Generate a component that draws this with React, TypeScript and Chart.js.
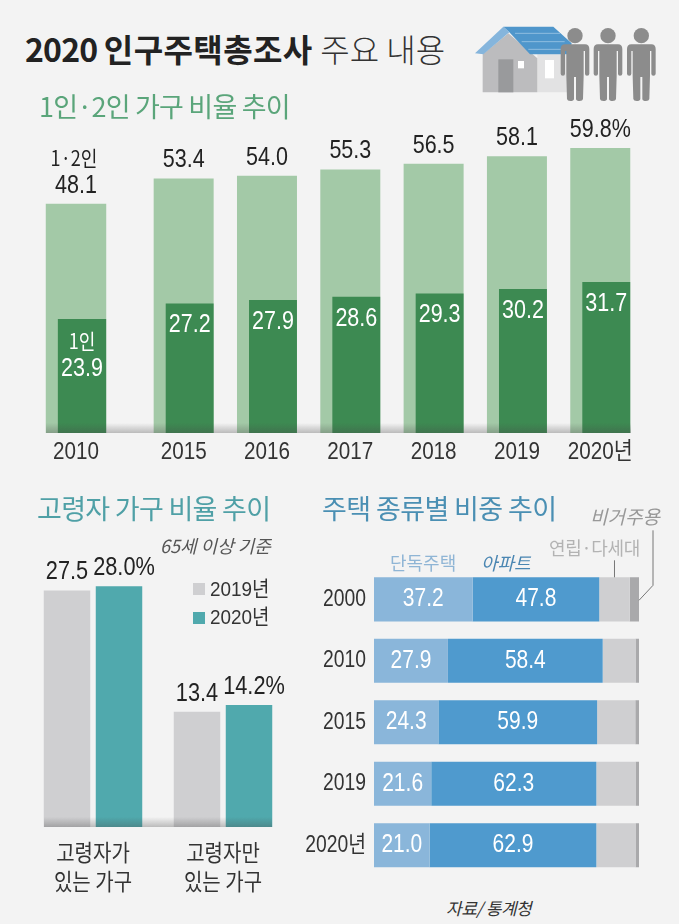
import React, { useEffect, useRef } from "react";
import { Chart, registerables } from "chart.js";

Chart.register(...registerables);

const years = ["2010", "2015", "2016", "2017", "2018", "2019", "2020년"];
const oneTwoPerson = [48.1, 53.4, 54.0, 55.3, 56.5, 58.1, 59.8];
const onePerson = [23.9, 27.2, 27.9, 28.6, 29.3, 30.2, 31.7];

const elderlyCategories = [["고령자가", "있는 가구"], ["고령자만", "있는 가구"]];
const elderly2019 = [27.5, 13.4];
const elderly2020 = [28.0, 14.2];

const housingYears = ["2000", "2010", "2015", "2019", "2020년"];
const detached = [37.2, 27.9, 24.3, 21.6, 21.0];
const apartment = [47.8, 58.4, 59.9, 62.3, 62.9];
const rowHouse = [11.5, 12.4, 14.4, 14.8, 14.8];
const nonResidential = [3.5, 1.3, 1.4, 1.3, 1.3];

const NARROW = "'Liberation Sans','Noto Sans CJK KR',sans-serif";
const KR = "'Noto Sans CJK KR',sans-serif";
const BG = "#f3f3f3";

const baseScaleOff = { display: false };

// Every text drawn on the canvas gets the reference's condensed look.
function condense(k: number) {
  return {
    id: "condense",
    beforeInit(chart: any) {
      const ctx = chart.ctx;
      const orig = ctx.fillText.bind(ctx);
      ctx.fillText = (t: string, x: number, y: number) => {
        ctx.save();
        ctx.translate(x, y);
        ctx.scale(k, 1);
        orig(t, 0, 0);
        ctx.restore();
      };
    },
  };
}

function shiftBars(index: number, dx: number) {
  return {
    id: "shiftBars",
    afterDatasetsUpdate(chart: any) {
      chart.getDatasetMeta(index).data.forEach((el: any) => {
        el.x += dx;
      });
    },
  };
}

type Lab = { ds: number; dy: number; color: string; size: number; text: (v: number, i: number) => string; dx?: number };

function barLabels(labs: Lab[], extra?: (chart: any, ctx: CanvasRenderingContext2D) => void) {
  return {
    id: "barLabels",
    afterDatasetsDraw(chart: any) {
      const ctx = chart.ctx as CanvasRenderingContext2D;
      ctx.save();
      ctx.textAlign = "center";
      ctx.textBaseline = "middle";
      labs.forEach((l) => {
        const data = chart.data.datasets[l.ds].data as number[];
        chart.getDatasetMeta(l.ds).data.forEach((el: any, i: number) => {
          ctx.font = `${l.size}px ${NARROW}`;
          ctx.fillStyle = l.color;
          ctx.fillText(l.text(data[i], i), el.x + (l.dx || 0), el.y + l.dy);
        });
      });
      if (extra) extra(chart, ctx);
      ctx.restore();
    },
  };
}

function useChart(make: (c: HTMLCanvasElement) => Chart) {
  const ref = useRef<HTMLCanvasElement>(null);
  useEffect(() => {
    const chart = make(ref.current!);
    return () => chart.destroy();
  }, []);
  return ref;
}

function trendChart(canvas: HTMLCanvasElement, labels: string[], light: number[], dark: number[], first: boolean) {
  const lastIsPct = !first;
  return new Chart(canvas, {
    type: "bar",
    data: {
      labels,
      datasets: [
        { label: "1인", data: dark, backgroundColor: "#3d8a52", barPercentage: 0.575, categoryPercentage: 1, grouped: false } as any,
        { label: "1·2인", data: light, backgroundColor: "#a3c9a7", barPercentage: 0.72, categoryPercentage: 1, grouped: false } as any,
      ],
    },
    options: {
      responsive: false,
      animation: false,
      events: [],
      layout: { padding: 0 },
      plugins: { legend: { display: false }, tooltip: { enabled: false } },
      scales: {
        x: {
          grid: { display: false, drawTicks: false },
          border: { display: false },
          ticks: { color: "#333", font: { family: NARROW, size: 24 }, padding: 5, maxRotation: 0, autoSkip: false },
          afterFit: (s: any) => { s.height = 40; },
        },
        y: { ...baseScaleOff, min: 0, max: 68 },
      },
    },
    plugins: [
      condense(0.86),
      shiftBars(0, 6),
      barLabels(
        [
          { ds: 1, dy: -18, color: "#222", size: 25, text: (v, i) => v.toFixed(1) + (lastIsPct && i === light.length - 1 ? "%" : "") },
          { ds: 0, dy: first ? 50 : 22, color: "#fff", size: 25, text: (v) => v.toFixed(1) },
        ],
        first
          ? (chart, ctx) => {
              const l = chart.getDatasetMeta(1).data[0];
              const d = chart.getDatasetMeta(0).data[0];
              ctx.font = `21px ${KR}`;
              ctx.fillStyle = "#222";
              ctx.fillText("1·2인", l.x - 2, l.y - 46);
              ctx.fillStyle = "#fff";
              ctx.fillText("1인", d.x, d.y + 22);
            }
          : undefined
      ),
    ],
  } as any);
}

export default function App() {
  const topA = useChart((c) => trendChart(c, years.slice(0, 1), oneTwoPerson.slice(0, 1), onePerson.slice(0, 1), true));
  const topB = useChart((c) => trendChart(c, years.slice(1), oneTwoPerson.slice(1), onePerson.slice(1), false));

  const elderly = useChart(
    (c) =>
      new Chart(c, {
        type: "bar",
        data: {
          labels: elderlyCategories,
          datasets: [
            { label: "2019년", data: elderly2019, backgroundColor: "#cfcfd1", barPercentage: 0.894, categoryPercentage: 0.8 },
            { label: "2020년", data: elderly2020, backgroundColor: "#50a9ad", barPercentage: 0.894, categoryPercentage: 0.8 },
          ],
        },
        options: {
          responsive: false,
          animation: false,
          events: [],
          plugins: { legend: { display: false }, tooltip: { enabled: false } },
          scales: {
            x: {
              grid: { display: false, drawTicks: false },
              border: { display: false },
              ticks: { color: "#333", font: { family: KR, size: 23, lineHeight: 1.25 }, padding: 11, maxRotation: 0 },
              afterFit: (s: any) => { s.height = 75; },
            },
            y: { ...baseScaleOff, min: 0, max: 35 },
          },
        },
        plugins: [
          condense(0.87),
          barLabels([
            { ds: 0, dy: -18, color: "#222", size: 25, text: (v) => v.toFixed(1) },
            { ds: 1, dy: -18, dx: 5, color: "#222", size: 25, text: (v) => v.toFixed(1) + "%" },
          ]),
        ],
      } as any)
  );

  const housing = useChart(
    (c) =>
      new Chart(c, {
        type: "bar",
        data: {
          labels: housingYears,
          datasets: [
            { label: "단독주택", data: detached, backgroundColor: "#8ab6da" },
            { label: "아파트", data: apartment, backgroundColor: "#4f9ace" },
            { label: "연립·다세대", data: rowHouse, backgroundColor: "#cfcfd1" },
            { label: "비거주용", data: nonResidential, backgroundColor: "#a9a9ab" },
          ].map((d) => ({ ...d, barPercentage: 0.717, categoryPercentage: 1 })),
        },
        options: {
          indexAxis: "y",
          responsive: false,
          animation: false,
          events: [],
          layout: { padding: { top: 58.6, right: 40 } },
          plugins: { legend: { display: false }, tooltip: { enabled: false } },
          scales: {
            x: { ...baseScaleOff, stacked: true, min: 0, max: 100 },
            y: {
              stacked: true,
              grid: { display: false, drawTicks: false },
              border: { display: false },
              ticks: { color: "#333", font: { family: NARROW, size: 23 }, padding: 8, autoSkip: false },
              afterFit: (s: any) => {
                s.width = 74;
                s.paddingTop = 0;
                s.paddingBottom = 0;
              },
            },
          },
        },
        plugins: [
          condense(0.84),
          {
            id: "housingLabels",
            afterDatasetsDraw(chart: any) {
              const ctx = chart.ctx as CanvasRenderingContext2D;
              ctx.save();
              ctx.textAlign = "center";
              ctx.textBaseline = "middle";
              ctx.font = `25px ${NARROW}`;
              ctx.fillStyle = "#fff";
              [0, 1].forEach((ds) => {
                chart.getDatasetMeta(ds).data.forEach((el: any, i: number) => {
                  ctx.fillText((chart.data.datasets[ds].data[i] as number).toFixed(1), (el.x + el.base) / 2, el.y);
                });
              });
              const row = chart.getDatasetMeta(2).data[0];
              const non = chart.getDatasetMeta(3).data[0];
              ctx.strokeStyle = "#777";
              ctx.lineWidth = 1;
              ctx.beginPath();
              const mid = (row.x + row.base) / 2;
              ctx.moveTo(mid, row.y - row.height / 2 - 17);
              ctx.lineTo(mid, row.y - row.height / 2);
              ctx.moveTo(non.x + 14, non.y - 69);
              ctx.lineTo(non.x + 14, non.y - 14);
              ctx.lineTo(non.x, non.y + 1);
              ctx.stroke();
              ctx.restore();
            },
          },
        ],
      } as any)
  );

  const abs = (left: number, top: number, extra: React.CSSProperties = {}): React.CSSProperties => ({
    position: "absolute",
    left,
    top,
    whiteSpace: "nowrap",
    lineHeight: 1,
    fontFamily: KR,
    ...extra,
  });

  const person = (cx: number) => (
    <g key={cx} transform={`translate(${cx} 0)`} fill="#8c8c8c">
      <circle cx={0} cy={62} r={23} />
      <path d="M-30 88H30Q43 88 43 102V176Q43 182 36 182Q30 182 30 176V108H26V182L24 252Q23 258 14 258Q4 258 3 252V186H-3V252Q-4 258 -14 258Q-23 258 -24 252L-26 182V108H-30V176Q-30 182 -36 182Q-43 182 -43 176V102Q-43 88 -30 88Z" />
    </g>
  );

  return (
    <div style={{ position: "relative", width: 679, height: 924, overflow: "hidden", background: BG }}>
      <style>{`body{margin:0;background:${BG}}`}</style>

      <canvas ref={topA} width={84} height={364} style={{ position: "absolute", left: 34, top: 109 }} />
      <canvas ref={topB} width={501} height={364} style={{ position: "absolute", left: 142, top: 109 }} />
      <canvas ref={elderly} width={260} height={376} style={{ position: "absolute", left: 28, top: 526 }} />
      <canvas ref={housing} width={379} height={366} style={{ position: "absolute", left: 300, top: 510 }} />

      <div style={{ position: "absolute", left: 46, top: 423, width: 585, height: 10, background: "linear-gradient(rgba(70,70,70,0),rgba(70,70,70,.32))" }} />
      <div style={{ position: "absolute", left: 44, top: 817, width: 228, height: 10, background: "linear-gradient(rgba(70,70,70,0),rgba(70,70,70,.32))" }} />

      <div style={abs(25, 32, { fontSize: 32, fontWeight: 700, color: "#222", letterSpacing: 0.4 })}>
        <span style={{ letterSpacing: -0.8 }}>2020 </span>인구주택총조사 <span style={{ fontWeight: 300, color: "#333", letterSpacing: 0 }}>주요 내용</span>
      </div>
      <div style={abs(39, 92, { fontSize: 27, color: "#5aa57a", letterSpacing: -0.8 })}>1인·2인 가구 비율 추이</div>
      <div style={abs(37, 494, { fontSize: 27, color: "#4fa0a6", letterSpacing: -0.7 })}>고령자 가구 비율 추이</div>
      <div style={abs(322, 494, { fontSize: 27, color: "#4a8fb3", letterSpacing: -0.6 })}>주택 종류별 비중 추이</div>
      <div style={abs(160, 536, { fontSize: 18, fontStyle: "italic", color: "#555" })}>65세 이상 기준</div>

      <div style={abs(193, 583, { width: 12, height: 12, background: "#cfcfd1" })} />
      <div style={abs(193, 612, { width: 12, height: 12, background: "#50a9ad" })} />
      <div style={abs(210, 578, { fontSize: 21, color: "#333", fontFamily: NARROW, transform: "scaleX(.9)", transformOrigin: "left" })}>2019년</div>
      <div style={abs(210, 606, { fontSize: 21, color: "#333", fontFamily: NARROW, transform: "scaleX(.9)", transformOrigin: "left" })}>2020년</div>

      <div style={abs(390, 553, { fontSize: 18, color: "#8fb5d5" })}>단독주택</div>
      <div style={abs(481, 553, { fontSize: 18, color: "#4a86b2", fontStyle: "italic" })}>아파트</div>
      <div style={abs(549, 538, { fontSize: 18, color: "#b3b3b3", letterSpacing: -0.3 })}>연립·다세대</div>
      <div style={abs(590, 506, { fontSize: 19, color: "#989898", fontStyle: "italic" })}>비거주용</div>
      <div style={abs(446, 899, { fontSize: 17, fontStyle: "italic", color: "#333", letterSpacing: -0.5 })}>자료/ 통계청</div>

      <svg style={{ position: "absolute", left: 460, top: 15 }} width={210} height={100} viewBox="0 0 630 300">
        <polygon points="232,118 332,118 332,232 232,232" fill="#e2e2e3" />
        <polygon points="68,118 145,55 232,130 232,232 68,232" fill="#bcbcbe" />
        <polygon points="115,133 160,133 160,232 115,232" fill="#999a9c" />
        <rect x="174" y="138" width="18" height="22" fill="#fff" />
        <rect x="255" y="135" width="27" height="55" fill="#fff" />
        <polygon points="130,35 280,35 335,85 328,118 210,118 148,52" fill="#4f96cb" />
        <polygon points="45,115 130,35 148,52 70,118" fill="#85b5dc" />
        {[55, 80, 103].map((y, i) => (
          <line key={y} x1={165 + i * 20} y1={y} x2={300 + i * 14} y2={y} stroke="#8fbde0" strokeWidth={3} />
        ))}
        {[345, 444, 544].map(person)}
      </svg>
    </div>
  );
}
